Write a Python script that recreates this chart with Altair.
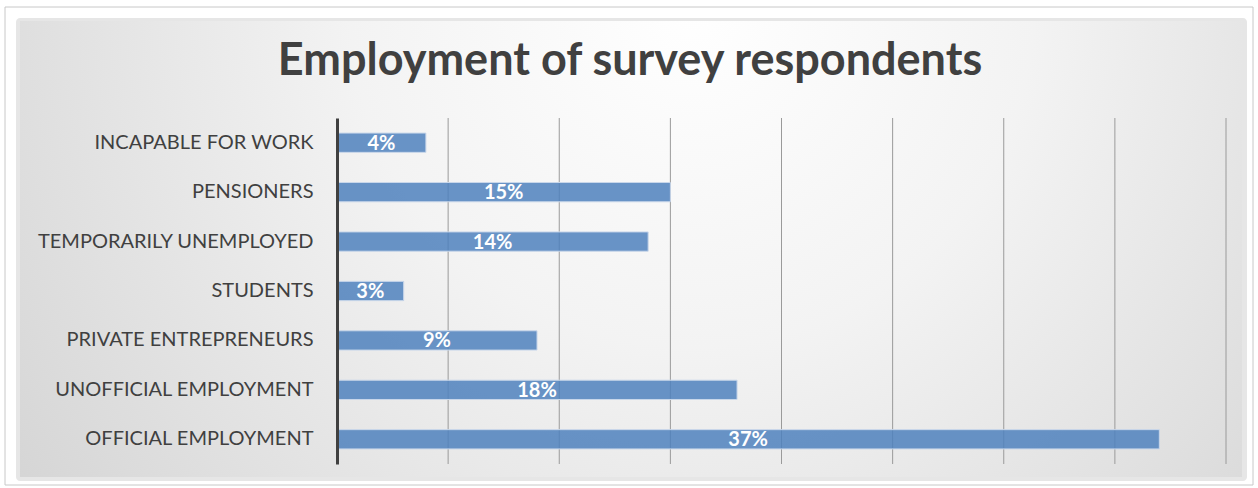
import altair as alt
import pandas as pd

categories = [
    "INCAPABLE FOR WORK\u00a0",
    "PENSIONERS",
    "TEMPORARILY UNEMPLOYED\u00a0",
    "STUDENTS",
    "PRIVATE ENTREPRENEURS\u00a0",
    "UNOFFICIAL EMPLOYMENT\u00a0",
    "OFFICIAL EMPLOYMENT",
]
values = [4, 15, 14, 3, 9, 18, 37]
labels = [f"{v}%" for v in values]
grid_ticks = [5, 10, 15, 20, 25, 30, 35, 40]
title_text = "Employment of survey respondents"

df = pd.DataFrame({"category": categories, "value": values, "label": labels})
grid_df = pd.DataFrame({"tick": grid_ticks})

FONT = "Lato"
W, H = 889, 346
PL, PT = 337, 118

x_scale = alt.Scale(domain=[0, 40], nice=False)

bg_data = alt.Data(values=[{"a": 1}])

outer = alt.Chart(bg_data).mark_rect(fill="#ffffff", stroke="#c8c8c8", strokeWidth=1).encode(
    x=alt.value(5 - PL), x2=alt.value(1253 - PL), y=alt.value(7 - PT), y2=alt.value(485 - PT)
)
shadow = alt.Chart(bg_data).mark_rect(fill="#b8b8b8", opacity=0.35, cornerRadius=4).encode(
    x=alt.value(16 - PL), x2=alt.value(1247 - PL), y=alt.value(18 - PT), y2=alt.value(481 - PT)
)
gradient_bg = alt.Chart(bg_data).mark_rect(
    fill={
        "gradient": "radial",
        "x1": 0.55, "y1": 0.3, "r1": 0,
        "x2": 0.55, "y2": 0.3, "r2": 0.8,
        "stops": [
            {"offset": 0, "color": "#ffffff"},
            {"offset": 0.35, "color": "#f3f3f3"},
            {"offset": 1, "color": "#cccccc"},
        ],
    }
).encode(
    x=alt.value(20 - PL), x2=alt.value(1242 - PL), y=alt.value(21 - PT), y2=alt.value(477 - PT)
)

grid = alt.Chart(grid_df).mark_rule(color="#9a9a9a", strokeWidth=1).encode(
    x=alt.X("tick:Q", scale=x_scale, axis=None),
)

bars = alt.Chart(df).mark_bar(
    color="#4f81bd", fillOpacity=0.85, stroke="#c9d7ea", strokeWidth=1
).encode(
    x=alt.X("value:Q", scale=x_scale, title=None, axis=None),
    y=alt.Y(
        "category:N",
        sort=categories,
        title=None,
        scale=alt.Scale(paddingInner=0.61, paddingOuter=0.305),
        axis=alt.Axis(
            domain=True, domainColor="#404040", domainWidth=3, ticks=False,
            labelFontSize=20, labelColor="#404040", labelFont=FONT,
            labelPadding=24, labelLimit=400, grid=False, zindex=1,
        ),
    ),
)

text = alt.Chart(df).transform_calculate(mid="datum.value / 2").mark_text(
    color="white", fontWeight="bold", fontSize=20, font=FONT, baseline="middle", align="center", dy=1
).encode(
    x=alt.X("mid:Q", scale=x_scale, axis=None),
    y=alt.Y("category:N", sort=categories),
    text="label:N",
)

title = alt.Chart(bg_data).mark_text(
    text=title_text, font=FONT, fontWeight="bold", fontSize=45, color="#404040",
    align="center", baseline="alphabetic"
).encode(x=alt.value(630 - PL), y=alt.value(75 - PT))

chart = alt.layer(outer, shadow, gradient_bg, grid, bars, text, title).properties(
    width=W, height=H,
    padding={"left": PL, "top": PT, "right": 1258 - PL - W, "bottom": 488 - PT - H},
    autosize=alt.AutoSizeParams(type="none"),
    background="white",
).configure_view(stroke=None)

chart.save("out.html", embed_options={"renderer": "svg", "actions": False})
